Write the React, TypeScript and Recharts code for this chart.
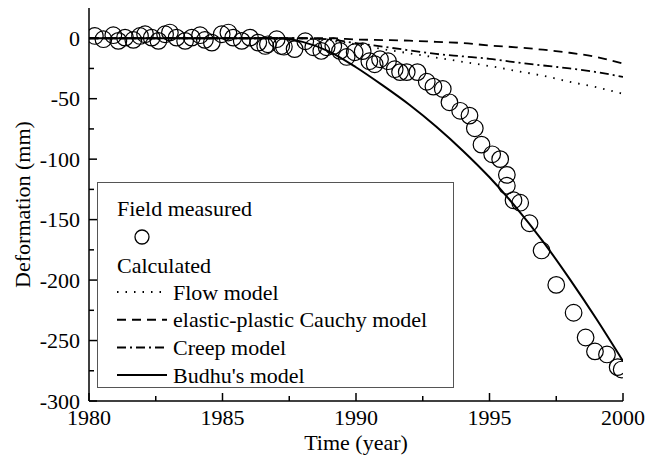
import { ComposedChart, Line, Scatter, XAxis, YAxis, Legend, Label } from 'recharts'

const FONT = 'Liberation Serif, Times New Roman, serif'
const textStyle = { fontFamily: FONT, fontSize: 22, fill: '#000' }

// field measured settlement
const measuredYear = [
  1980.22, 1980.54, 1980.91, 1981.1, 1981.35, 1981.66, 1981.91, 1982.1, 1982.35, 1982.6,
  1982.85, 1983.03, 1983.28, 1983.6, 1983.85, 1984.16, 1984.34, 1984.6, 1984.97, 1985.22,
  1985.4, 1985.72, 1986.03, 1986.34, 1986.6, 1986.7, 1987.03, 1987.2, 1987.3, 1987.7,
  1988.1, 1988.4, 1988.7, 1988.9, 1989.15, 1989.4, 1989.65, 1989.95, 1990.25, 1990.5,
  1990.7, 1990.9, 1991.2, 1991.45, 1991.65, 1991.9, 1992.3, 1992.65, 1992.9, 1993.25,
  1993.5, 1993.9, 1994.25, 1994.45, 1994.7, 1995.1, 1995.4, 1995.65, 1995.65, 1995.9,
  1996.15, 1996.5, 1996.95, 1997.5, 1998.15, 1998.6, 1998.95, 1999.4, 1999.8, 1999.95
]
const measuredDef = [
  1.9, -0.8, 2.5, -2.2, 0.5, -1.4, 1.9, 3.3, 0.5, -2.2,
  3.3, 4.7, 0.5, -2.2, 0.5, 2.5, -1.4, -3.6, 3.3, 4.7,
  0.5, -2.2, 0.5, -3.6, -6.4, -5, -0.8, -6.4, -7, -9,
  -2.5, -7.5, -10.5, -7.5, -6.5, -10.5, -15.5, -11.6, -10.7, -19,
  -21.5, -17.4, -19, -25.6, -28, -28, -28, -36, -40, -42,
  -53, -60, -64, -74.5, -88, -96, -100, -113, -122, -134,
  -136, -153, -175.5, -204, -227, -247.5, -259, -261.5, -272, -274
]

// calculated curves
const modelYear = [
  1980, 1981, 1982, 1983, 1984, 1985, 1986, 1987, 1988, 1989, 1990,
  1991, 1992, 1993, 1994, 1995, 1996, 1997, 1998, 1999, 2000
]
const flowModel = [0, 0, 0, 0, 0, 0, 0, 0, 0, -2, -5, -9, -12.5, -16, -19.5, -23, -27, -31, -36, -40.5, -46]
const cauchyModel = [0, 0, 0, 0, 0, 0, 0, 0, 0, 0, -1, -1.5, -2, -3, -4, -6, -7.5, -9.5, -12, -15.5, -21]
const creepModel = [0, 0, 0, 0, 0, 0, 0, 0, 0, -1, -4, -7, -10, -13, -15, -17, -20, -22.5, -25, -28, -32]
const budhuModel = [0, 0, 0, 0, 0, 0, 0, 0, -3, -11, -24, -39, -55, -73, -93, -115, -140, -168, -199, -232, -267]

const xTicks = [1980, 1982.5, 1985, 1987.5, 1990, 1992.5, 1995, 1997.5, 2000]
const xLabels = [1980, 1985, 1990, 1995, 2000]
const yTicks = [-300, -275, -250, -225, -200, -175, -150, -125, -100, -75, -50, -25, 0]
const yLabels = [-300, -250, -200, -150, -100, -50, 0]

const measured = measuredYear.map((x, i) => ({ x, y: measuredDef[i] }))
const toSeries = (vals: number[]) => modelYear.map((x, i) => ({ x, y: vals[i] }))

const TICK_MAJOR = 8
const TICK_MINOR = 5

function BottomTick ({ x, y, payload }: any) {
  const major = xLabels.includes(payload.value)
  return (
    <g>
      <line x1={x} x2={x} y1={y} y2={y - (major ? TICK_MAJOR : TICK_MINOR)} stroke='#000' strokeWidth={1.5} />
      {major && (
        <text x={x} y={y + 24} textAnchor='middle' style={textStyle}>
          {payload.value}
        </text>
      )}
    </g>
  )
}

function TopTick ({ x, y, payload }: any) {
  const major = xLabels.includes(payload.value)
  return <line x1={x} x2={x} y1={y} y2={y + (major ? TICK_MAJOR : TICK_MINOR)} stroke='#000' strokeWidth={1.5} />
}

function LeftTick ({ x, y, payload }: any) {
  const major = yLabels.includes(payload.value)
  return (
    <g>
      <line x1={x} x2={x + (major ? TICK_MAJOR : TICK_MINOR)} y1={y} y2={y} stroke='#000' strokeWidth={1.5} />
      {major && (
        <text x={x - 9} y={y + 7.5} textAnchor='end' style={textStyle}>
          {payload.value}
        </text>
      )}
    </g>
  )
}

function RightTick ({ x, y, payload }: any) {
  const major = yLabels.includes(payload.value)
  return <line x1={x} x2={x - (major ? TICK_MAJOR : TICK_MINOR)} y1={y} y2={y} stroke='#000' strokeWidth={1.5} />
}

const rows = [
  { name: 'Flow model', dash: '1.5 7' },
  { name: 'elastic-plastic Cauchy model', dash: '9 6' },
  { name: 'Creep model', dash: '9 4 2 4' },
  { name: "Budhu's model", dash: undefined }
]

function LegendBox () {
  return (
    <svg width={358} height={207} style={{ display: 'block' }}>
      <rect x={0.5} y={0.5} width={356} height={205} fill='#fff' stroke='#555' strokeWidth={1} />
      <text x={20} y={34} style={textStyle}>Field measured</text>
      <circle cx={45} cy={55} r={7} fill='none' stroke='#000' strokeWidth={1.3} />
      <text x={20} y={91} style={textStyle}>Calculated</text>
      {rows.map((r, i) => (
        <g key={r.name}>
          <line x1={20} x2={70} y1={110 + i * 27.7} y2={110 + i * 27.7} stroke='#000' strokeWidth={2} strokeDasharray={r.dash} />
          <text x={76} y={117.5 + i * 27.7} style={textStyle}>{r.name}</text>
        </g>
      ))}
    </svg>
  )
}

const circleShape = (props: any) => (
  <circle cx={props.cx} cy={props.cy} r={8.3} fill='none' stroke='#000' strokeWidth={1.2} />
)

export default function App () {
  return (
    <div style={{ position: 'absolute', left: 0, top: 0, background: '#fff' }}>
      <ComposedChart
        width={649}
        height={464}
        margin={{ top: 8, right: 26, bottom: 0, left: 0 }}
      >
        <XAxis
          xAxisId={0}
          dataKey='x'
          type='number'
          domain={[1980, 2000]}
          ticks={xTicks}
          interval={0}
          height={63}
          tickSize={0}
          tickMargin={0}
          tickLine={false}
          axisLine={{ stroke: '#000', strokeWidth: 1.5 }}
          tick={BottomTick}
          allowDataOverflow
        >
          <Label
            content={({ viewBox }: any) => (
              <text
                x={viewBox.x + viewBox.width / 2}
                y={viewBox.y + 49}
                textAnchor='middle'
                style={textStyle}
              >
                Time (year)
              </text>
            )}
          />
        </XAxis>
        <XAxis
          xAxisId='top'
          orientation='top'
          dataKey='x'
          type='number'
          domain={[1980, 2000]}
          ticks={xTicks}
          interval={0}
          height={0}
          tickSize={0}
          tickMargin={0}
          tickLine={false}
          axisLine={{ stroke: '#000', strokeWidth: 1.5 }}
          tick={TopTick}
          allowDataOverflow
        />
        <YAxis
          yAxisId={0}
          type='number'
          domain={[-300, 25]}
          ticks={yTicks}
          interval={0}
          width={89}
          tickSize={0}
          tickMargin={0}
          tickLine={false}
          axisLine={{ stroke: '#000', strokeWidth: 1.5 }}
          tick={LeftTick}
          allowDataOverflow
        >
          <Label
            content={({ viewBox }: any) => {
              const cx = viewBox.x + 22
              const cy = viewBox.y + viewBox.height / 2
              return (
                <text
                  x={cx}
                  y={cy}
                  transform={`rotate(-90, ${cx}, ${cy})`}
                  textAnchor='middle'
                  dominantBaseline='central'
                  style={textStyle}
                >
                  Deformation (mm)
                </text>
              )
            }}
          />
        </YAxis>
        <YAxis
          yAxisId='right'
          orientation='right'
          type='number'
          domain={[-300, 25]}
          ticks={yTicks}
          interval={0}
          width={0}
          tickSize={0}
          tickMargin={0}
          tickLine={false}
          axisLine={{ stroke: '#000', strokeWidth: 1.5 }}
          tick={RightTick}
          allowDataOverflow
        />

        <Line data={toSeries(flowModel)} dataKey='y' type='monotone' stroke='#000' strokeWidth={1.8} strokeDasharray='1.5 7' dot={false} activeDot={false} isAnimationActive={false} />
        <Line data={toSeries(cauchyModel)} dataKey='y' type='monotone' stroke='#000' strokeWidth={1.8} strokeDasharray='9 6' dot={false} activeDot={false} isAnimationActive={false} />
        <Line data={toSeries(creepModel)} dataKey='y' type='monotone' stroke='#000' strokeWidth={1.8} strokeDasharray='9 4 2 4' dot={false} activeDot={false} isAnimationActive={false} />
        <Line data={toSeries(budhuModel)} dataKey='y' type='monotone' stroke='#000' strokeWidth={2} dot={false} activeDot={false} isAnimationActive={false} />
        <Scatter data={measured} dataKey='y' shape={circleShape} isAnimationActive={false} />

        <Legend
          layout='vertical'
          align='center'
          verticalAlign='middle'
          content={() => <LegendBox />}
          wrapperStyle={{ position: 'absolute', left: 97, top: 182, width: 358, height: 207 }}
        />
      </ComposedChart>
    </div>
  )
}
